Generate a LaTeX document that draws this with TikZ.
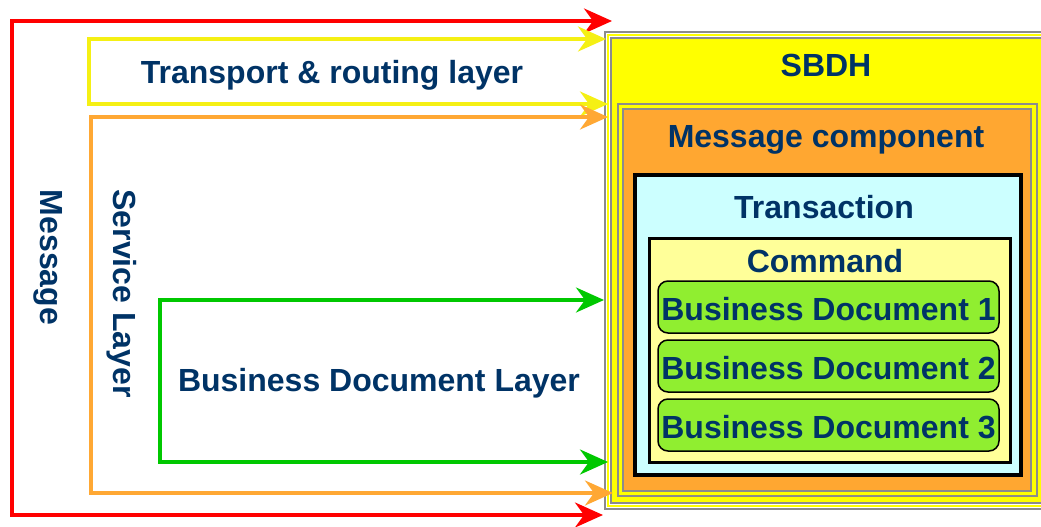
\documentclass[tikz,border=0pt]{standalone}
\usepackage{fontspec}
\setmainfont{Liberation Sans}
\usetikzlibrary{arrows.meta}
\definecolor{inkblue}{RGB}{0,51,102}
\definecolor{linered}{RGB}{255,0,0}
\definecolor{lineyellow}{RGB}{245,240,20}
\definecolor{lineorange}{RGB}{255,168,52}
\definecolor{linegreen}{RGB}{0,200,0}
\definecolor{hdryellow}{RGB}{255,255,0}
\definecolor{msgorange}{RGB}{255,167,49}
\definecolor{trcyan}{RGB}{204,255,255}
\definecolor{cmdyellow}{RGB}{255,255,153}
\definecolor{doclime}{RGB}{144,238,48}
\definecolor{framegray}{RGB}{140,140,140}
\tikzset{
  lbl/.style={font=\fontsize{32}{36}\selectfont\bfseries, text=inkblue, inner sep=0pt, anchor=base},
  layerbox/.style={rectangle, inner sep=0pt},
  docbox/.style={rectangle, rounded corners=10pt, draw=black, line width=1.5pt, fill=doclime,
    minimum width=341pt, minimum height=52pt, inner sep=0pt, text height=27pt, text depth=0pt,
    font=\fontsize{32}{36}\selectfont\bfseries, text=inkblue},
  bracket/.style={line width=3.5pt, {Stealth[length=28pt,width=25pt,inset=9pt]}-{Stealth[length=28pt,width=25pt,inset=9pt]}}
}
\begin{document}
\begin{tikzpicture}[x=1pt,y=-1pt]
\useasboundingbox (0,0) rectangle (1041,527);
\clip (0,0) rectangle (1041,527);

% SBDH frame: gray, yellow, gray layers
\node[layerbox, draw=framegray, line width=1.5pt, fill=white,
  minimum width=445pt, minimum height=477pt] (sbdhA) at (827.5,270.5) {};
\node[layerbox, draw=hdryellow, line width=1.5pt,
  minimum width=439pt, minimum height=471pt] (sbdhB) at (827.5,270.5) {};
\node[layerbox, draw=framegray, line width=2pt, fill=hdryellow,
  minimum width=433pt, minimum height=465pt] (sbdh) at (827.5,270.5) {};
\node[lbl] (sbdhT) at (826,77) {SBDH};

% Message component frame
\node[layerbox, draw=framegray, line width=1.5pt,
  minimum width=419pt, minimum height=392pt] (msgA) at (827.5,300) {};
\node[layerbox, draw=framegray, line width=2pt, fill=msgorange,
  minimum width=408pt, minimum height=382pt] (msg) at (827,300) {};
\node[lbl] (msgT) at (826,147) {Message component};

% Transaction
\node[layerbox, draw=black, line width=3.5pt, fill=trcyan,
  minimum width=386pt, minimum height=300pt] (trans) at (828,325) {};
\node[lbl] (transT) at (824,218) {Transaction};

% Command
\node[layerbox, draw=black, line width=3pt, fill=cmdyellow,
  minimum width=361pt, minimum height=224pt] (cmd) at (829.5,350) {};
\node[lbl] (cmdT) at (825,272) {Command};

% Business documents
\node[docbox] (bd1) at (828.5,307) {Business Document 1};
\node[docbox] (bd2) at (828.5,366) {Business Document 2};
\node[docbox] (bd3) at (828.5,425) {Business Document 3};

% Layer labels
\node[lbl] (trT) at (332,83) {Transport \& routing layer};
\node[lbl] (bdlT) at (379,391) {Business Document Layer};
\node[lbl, rotate=-90] (mT) at (40,257.5) {Message};
\node[lbl, rotate=-90] (sT) at (113,293.5) {Service Layer};

% Bracket connectors
\coordinate (rTop) at (612,21);
\coordinate (rBot) at (603,515);
\coordinate (yTop) at (606,39);
\coordinate (yBot) at (608,104);
\coordinate (oTop) at (608,117);
\coordinate (oBot) at (613,493);
\coordinate (gTop) at (604,300);
\coordinate (gBot) at (608,462);

\draw[bracket, draw=linered] (rTop) -- (12,21) -- (12,515) -- (rBot);
\draw[bracket, draw=lineyellow] (yTop) -- (89,39) -- (89,104) -- (yBot);
\draw[bracket, draw=lineorange] (oTop) -- (91,117) -- (91,493) -- (oBot);
\draw[bracket, draw=linegreen] (gTop) -- (160,300) -- (160,462) -- (gBot);
\end{tikzpicture}
\end{document}
